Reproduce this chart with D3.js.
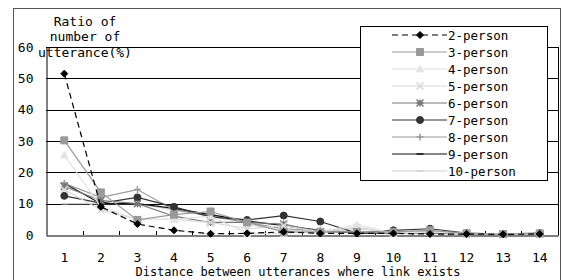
<!DOCTYPE html>
<html><head><meta charset="utf-8">
<script src="https://cdn.jsdelivr.net/npm/d3@7"></script>
<style>body{margin:0;background:#fff}svg text{font-family:"DejaVu Sans Mono",monospace}</style>
</head><body><svg id="c" width="563" height="280"></svg>
<script>
const distances = [1,2,3,4,5,6,7,8,9,10,11,12,13,14];
const yTicks = [0,10,20,30,40,50,60];
const seriesNames = ["2-person","3-person","4-person","5-person","6-person","7-person","8-person","9-person","10-person"];
const p2  = [51.5, 9, 3.5, 1.5, 0.4, 0.5, 1, 0.5, 0.5, 0.5, 0.3, 0.3, 0.2, 0.3];
const p3  = [30.2, 13.6, 4.8, 6.5, 7.5, 4, 1, 1, 1, 1, 1.5, 0.5, 0.3, 0.5];
const p4  = [25.5, 9, 5, 5, 6, 0.5, 0.5, 1, 3.3, 0.5, 1, 0.5, 0.3, 0.5];
const p5  = [14.5, 8, 5, 5, 4, 2, 3, 1, 2.5, 0.5, 1, 0.5, 0.3, 0.3];
const p6  = [15.5, 11, 10, 6, 4, 4, 3.5, 1, 1, 0.5, 1, 0.5, 0.2, 0.3];
const p7  = [12.5, 10.2, 12, 9, 5.8, 4.8, 6.2, 4.3, 0.6, 1.5, 2, 0.6, 0.3, 0.6];
const p8  = [16.5, 12, 14.5, 8, 6, 4, 2, 1.5, 1, 0.5, 0.6, 0.5, 0.2, 0.5];
const p9  = [16.5, 10, 10, 8.5, 6.5, 4.5, 3, 1.5, 0.6, 0.6, 0.5, 0.4, 0.2, 0.3];
const p10 = [10, 10, 10, 8, 6.5, 3.5, 1.5, 1.5, 2, 1, 1, 0.5, 0.3, 0.5];
const seriesValues = [p2,p3,p4,p5,p6,p7,p8,p9,p10];

const colors = ["#000","#999","#e2e2e2","#d8d8d8","#777","#333","#9a9a9a","#111","#cfcfcf"];
const dashes = ["6,4",null,null,null,null,null,null,null,null];
const markers = ["diamond","square","triangle","x","asterisk","circle","plus","dash","dash"];

function markerPath(type, s){
  switch(type){
    case "diamond": return `M0,${-s}L${s},0L0,${s}L${-s},0Z`;
    case "square": return `M${-s},${-s}h${2*s}v${2*s}h${-2*s}Z`;
    case "triangle": return `M0,${-s}L${s},${s*0.8}L${-s},${s*0.8}Z`;
    case "circle": return d3.symbol(d3.symbolCircle, Math.PI*s*s)();
    case "x": return `M${-s},${-s}L${s},${s}M${-s},${s}L${s},${-s}`;
    case "plus": return `M${-s},0L${s},0M0,${-s}L0,${s}`;
    case "asterisk": return `M${-s},${-s}L${s},${s}M${-s},${s}L${s},${-s}M${-s},0L${s},0M0,${-s}L0,${s}`;
    case "dash": return `M${-s},0L${s},0`;
  }
}
const filled = {diamond:true,square:true,triangle:true,circle:true};

const svg = d3.select("#c");
const L=46, R=558, T=47, B=235;
const x = d3.scaleBand().domain(distances).range([L,R]);
const y = d3.scaleLinear().domain([0,60]).range([B,T]);

// outer frame
svg.append("rect").attr("x",13.5).attr("y",8.5).attr("width",547).attr("height",290)
  .attr("fill","none").attr("stroke","#555").attr("stroke-width",1);

// gridlines
svg.append("g").selectAll("line").data(yTicks.filter(d=>d>0)).join("line")
  .attr("x1",L).attr("x2",R).attr("y1",d=>Math.round(y(d))+0.5).attr("y2",d=>Math.round(y(d))+0.5)
  .attr("stroke","#000").attr("stroke-width",1);

// axes
const yAxis = d3.axisLeft(y).tickValues(yTicks).tickSize(0).tickPadding(13);
const gy = svg.append("g").attr("transform",`translate(${L+0.5},0)`).call(yAxis);
gy.select(".domain").attr("stroke","#000");
gy.selectAll("text").attr("font-size",13).attr("fill","#000");

const xAxis = d3.axisBottom(x).tickSize(0).tickPadding(17);
const gx = svg.append("g").attr("transform",`translate(0,${B+0.5})`).call(xAxis);
gx.select(".domain").attr("stroke","#000");
gx.selectAll("text").attr("font-size",13).attr("fill","#000");
// small inward ticks at band boundaries
svg.append("g").selectAll("line").data(distances.slice(1)).join("line")
  .attr("x1",d=>Math.round(x(d))+0.5).attr("x2",d=>Math.round(x(d))+0.5)
  .attr("y1",B).attr("y2",B-4).attr("stroke","#000");
// right border
svg.append("line").attr("x1",R+0.5).attr("x2",R+0.5).attr("y1",T).attr("y2",B+0.5).attr("stroke","#000");

// series
const line = d3.line().x((d,i)=>x(distances[i])+x.bandwidth()/2).y(d=>y(d));
const order = [8,7,6,5,4,3,2,1,0];
order.forEach(si=>{
  const g = svg.append("g");
  g.append("path").attr("d",line(seriesValues[si])).attr("fill","none")
    .attr("stroke",colors[si]).attr("stroke-width",1.2).attr("stroke-dasharray",dashes[si]);
  g.selectAll("path.m").data(seriesValues[si]).join("path").attr("class","m")
    .attr("transform",(d,i)=>`translate(${x(distances[i])+x.bandwidth()/2},${y(d)})`)
    .attr("d",markerPath(markers[si], markers[si]==="circle"?3.5:3.5))
    .attr("fill",filled[markers[si]]?colors[si]:"none")
    .attr("stroke",colors[si]).attr("stroke-width",filled[markers[si]]?1:1.5);
});

// y-axis title
const yt = svg.append("text").attr("text-anchor","middle").attr("font-size",13).attr("fill","#000");
[["Ratio of",26],["number of",41],["utterance(%)",57]].forEach(([t,yy])=>{
  yt.append("tspan").attr("x",85).attr("y",yy).text(t);
});
// x-axis title
svg.append("text").attr("x",298).attr("y",276).attr("text-anchor","middle")
  .attr("font-size",12).attr("fill","#000").text("Distance between utterances where link exists");

// legend
const lg = svg.append("g");
lg.append("rect").attr("x",360.5).attr("y",26.5).attr("width",187).attr("height",154)
  .attr("fill","#fff").attr("stroke","#000");
seriesNames.forEach((n,i)=>{
  const yy = 35 + i*17;
  lg.append("line").attr("x1",392).attr("x2",447).attr("y1",yy).attr("y2",yy)
    .attr("stroke",colors[i]).attr("stroke-width",1.2).attr("stroke-dasharray",dashes[i]);
  lg.append("path").attr("transform",`translate(420,${yy})`).attr("d",markerPath(markers[i],3.5))
    .attr("fill",filled[markers[i]]?colors[i]:"none").attr("stroke",colors[i]).attr("stroke-width",filled[markers[i]]?1:1.5);
  lg.append("text").attr("x",448).attr("y",yy+4.5).attr("font-size",12.5).attr("fill","#000").text(n);
});
</script></body></html>
